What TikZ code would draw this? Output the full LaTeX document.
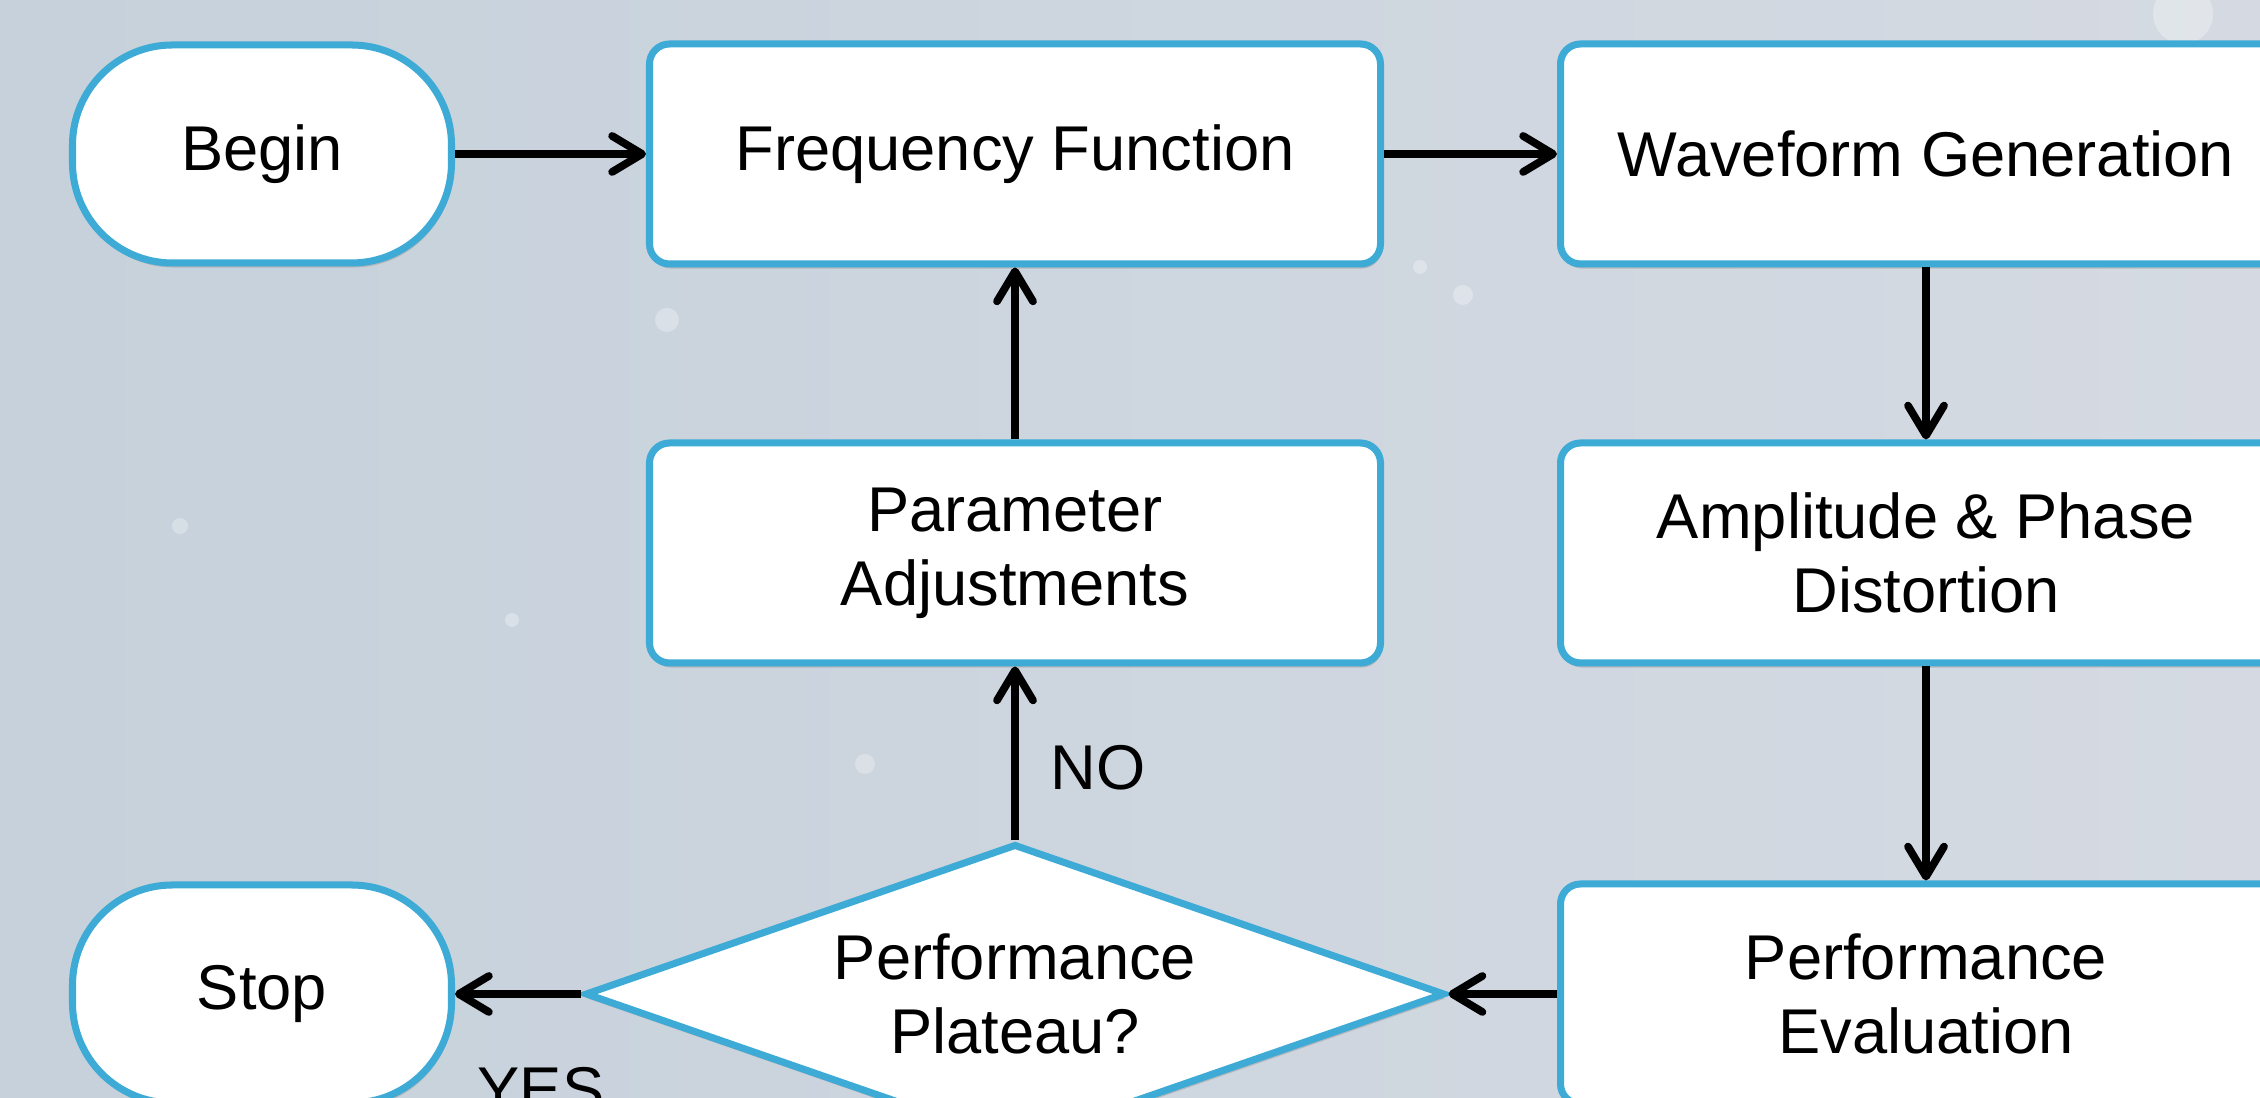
\documentclass[tikz,border=0pt]{standalone}
\usepackage{fontspec}
\setmainfont{Liberation Sans}
\usetikzlibrary{shapes.geometric,shadows,arrows.meta}
\definecolor{flowblue}{RGB}{62,170,214}
\definecolor{bgleft}{RGB}{198,209,219}
\definecolor{bgright}{RGB}{213,218,226}
\begin{document}
\begin{tikzpicture}[
 font=\fontsize{18}{21}\selectfont,
 box/.style={draw=flowblue,line width=2pt,fill=white,rounded corners=0.2cm,minimum width=7.31cm,minimum height=2.2cm,align=center,drop shadow={shadow xshift=0.4pt,shadow yshift=-1.3pt,opacity=0.35}},
 term/.style={box,rounded corners=1cm,minimum width=3.79cm,minimum height=2.18cm},
 decide/.style={diamond,draw=flowblue,line width=2pt,fill=white,aspect=2.86,inner sep=0pt,minimum width=8.6cm,minimum height=3cm,align=center,drop shadow={shadow xshift=0.4pt,shadow yshift=-1.3pt,opacity=0.35}},
 link/.style={-{Straight Barb[length=3mm,width=3.6mm,round]},line width=2.2pt},
 flake/.style={white,opacity=0.3}
]
 \useasboundingbox (0,0) rectangle (22.6,10.98);
 \clip (0,0) rectangle (22.6,10.98);
 \fill[left color=bgleft,right color=bgright] (0,0) rectangle (22.6,10.98);
 \fill[flake] (6.67,7.78) circle (0.12);
 \fill[flake] (14.63,8.03) circle (0.1);
 \fill[flake] (14.2,8.31) circle (0.07);
 \fill[flake] (8.65,3.34) circle (0.1);
 \fill[flake] (1.80,5.72) circle (0.08);
 \fill[flake] (5.12,4.78) circle (0.07);
 \fill[flake] (21.83,10.84) circle (0.3);
 \fill[flake] (1.12,9.94) circle (0.1);

 \node[term] (begin) at (2.62,9.44) {Begin};
 \node[box] (freq) at (10.15,9.44) {Frequency Function};
 \node[box] (wave) at (19.26,9.44) {Waveform Generation};
 \node[box] (param) at (10.15,5.45) {Parameter\\Adjustments};
 \node[box] (amp) at (19.26,5.45) {Amplitude \& Phase\\Distortion};
 \node[box] (peval) at (19.26,1.04) {Performance\\Evaluation};
 \node[decide] (dec) at (10.15,1.04) {Performance\\Plateau?};
 \node[term] (stop) at (2.62,1.04) {Stop};
 \node[anchor=base] (yes) at (5.41,-0.14) {YES};

 \draw[link] (begin) -- (freq);
 \draw[link] (freq) -- (wave);
 \draw[link] (wave) -- (amp);
 \draw[link] (amp) -- (peval);
 \draw[link] (peval) -- (dec);
 \draw[link] (dec) -- (stop);
 \draw[link] (dec) -- node[right=0.2cm,pos=0.42] (no) {NO} (param);
 \draw[link] (param) -- (freq);
\end{tikzpicture}
\end{document}
